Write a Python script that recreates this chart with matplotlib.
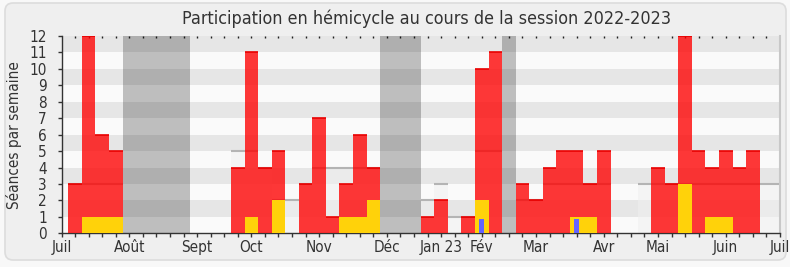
import matplotlib
matplotlib.use('Agg')
import matplotlib.pyplot as plt
from matplotlib.patches import FancyBboxPatch
from matplotlib.transforms import IdentityTransform
import numpy as np

# ---- data (one value per week, week 0 = week of 4 July 2022) ----
weeks = list(range(53))
presence = [3, 12, 6, 5, 0, 0, 0, 0, 0, 0, 0, 0, 4, 11, 4, 5, 0, 3, 7, 1,
            3, 6, 4, 0, 0, 0, 1, 2, 0, 1, 10, 11, 0, 3, 2, 4, 5, 5, 3, 5,
            0, 0, 0, 4, 3, 12, 5, 4, 5, 4, 5, 0, 0]
interventions = [0, 1, 1, 1, 0, 0, 0, 0, 0, 0, 0, 0, 0, 1, 0, 2, 0, 0, 0, 0,
                 1, 1, 2, 0, 0, 0, 0, 0, 0, 0, 2, 0, 0, 0, 0, 0, 0, 1, 1, 0,
                 0, 0, 0, 0, 0, 3, 0, 1, 1, 0, 0, 0, 0]
questions = [0] * 30 + [0.85] + [0] * 6 + [0.85] + [0] * 15
median = [3, 3, 3, 3, 0, 0, 0, 0, 0, 0, 0, 0, 5, 5, 4, 2, 2, 3, 4, 4,
          4, 4, 4, 0, 0, 0, 2, 3, 1, 1, 5, 5, 0, 2, 2, 3, 3, 3, 3, 3,
          0, 0, 3, 3, 3, 3, 3, 3, 3, 3, 3, 3, 3]
holidays = [(4, 8), (23, 25), (32, 32)]
month_labels = ['Juil', 'Août', 'Sept', 'Oct', 'Nov', 'Déc', 'Jan 23', 'Fév',
                'Mar', 'Avr', 'Mai', 'Juin', 'Juil']
month_weeks = [-1, 4, 9, 13, 18, 23, 27, 30, 34, 39, 43, 48, 52]
title = 'Participation en hémicycle au cours de la session 2022-2023'
ylabel = 'Séances par semaine'

plt.rcParams['font.family'] = ['DejaVu Sans']
plt.rcParams['font.stretch'] = 'condensed'

W, H = 790, 267
fig = plt.figure(figsize=(W / 100, H / 100), dpi=100)
fig.patch.set_facecolor('#f8f8f8')
frame = FancyBboxPatch((5, 7), 781, 257, boxstyle='round,pad=0,rounding_size=8',
                       transform=IdentityTransform(), facecolor='#efefef',
                       edgecolor='#dcdcdc', lw=1.2, zorder=-10)
fig.patches.append(frame)

ax = fig.add_axes([61.5 / W, 33.7 / H, 718.5 / W, 197.3 / H])
ax.set_zorder(1)
ax.set_xlim(-1, 52)
ax.set_ylim(0, 12)
ax.set_facecolor('#fafafa')
for k in range(1, 12, 2):
    ax.axhspan(k, k + 1, color='#e6e6e6', lw=0, zorder=0)
for a, b in holidays:
    ax.axvspan(a - 0.5, b + 0.5, color='black', alpha=0.24, lw=0, zorder=1)

w = np.array(weeks)
med = np.array(median)
pres = np.array(presence)
ax.bar(w, med, width=1, color=(0.94, 0.94, 0.94, 0.6), lw=0, zorder=2)
m = med > 0
ax.hlines(med[m], w[m] - 0.5, w[m] + 0.5, color='#b4b4b4', lw=1.5, zorder=2.5)
ax.bar(w, pres, width=1, color=(1, 0, 0, 0.78), lw=0, zorder=3)
p = pres > 0
ax.hlines(pres[p], w[p] - 0.5, w[p] + 0.5, color='#e80000', lw=1.2, zorder=3.5)
ax.bar(w, interventions, width=1, color='#ffd20a', lw=0, zorder=4)
ax.bar(w, questions, width=0.35, color='#6464ff', lw=0, zorder=5)

ax.spines['top'].set_visible(False)
ax.spines['right'].set_color('#c8c8c8')
ax.spines['right'].set_linewidth(1.5)
for s in ['left', 'bottom']:
    ax.spines[s].set_color('#333333')
    ax.spines[s].set_linewidth(1)

ax.set_xticks(month_weeks)
ax.set_xticklabels(month_labels)
ax.set_xticks(range(-1, 53), minor=True)
ax.set_yticks(range(13))
ax.tick_params(axis='both', which='both', length=3, width=1, color='#333333',
               labelsize=11, labelcolor='#333333')
ax.tick_params(axis='x', pad=1.5)
ax.tick_params(axis='y', pad=7.5)

sec = ax.secondary_xaxis('top')
sec.set_xticks(range(0, 52))
sec.tick_params(direction='in', length=1.5, width=1, labeltop=False, color='#222222')
sec.spines['top'].set_visible(False)

ax.set_ylabel(ylabel, fontsize=11, color='#333333')
ax.yaxis.set_label_coords(-0.055, 0.5)

fig.text(427 / W, 1 - 19 / H, title, ha='center', va='center', fontsize=12.9,
         color='#333333')

fig.savefig('out.png', dpi=100, facecolor=fig.get_facecolor())
